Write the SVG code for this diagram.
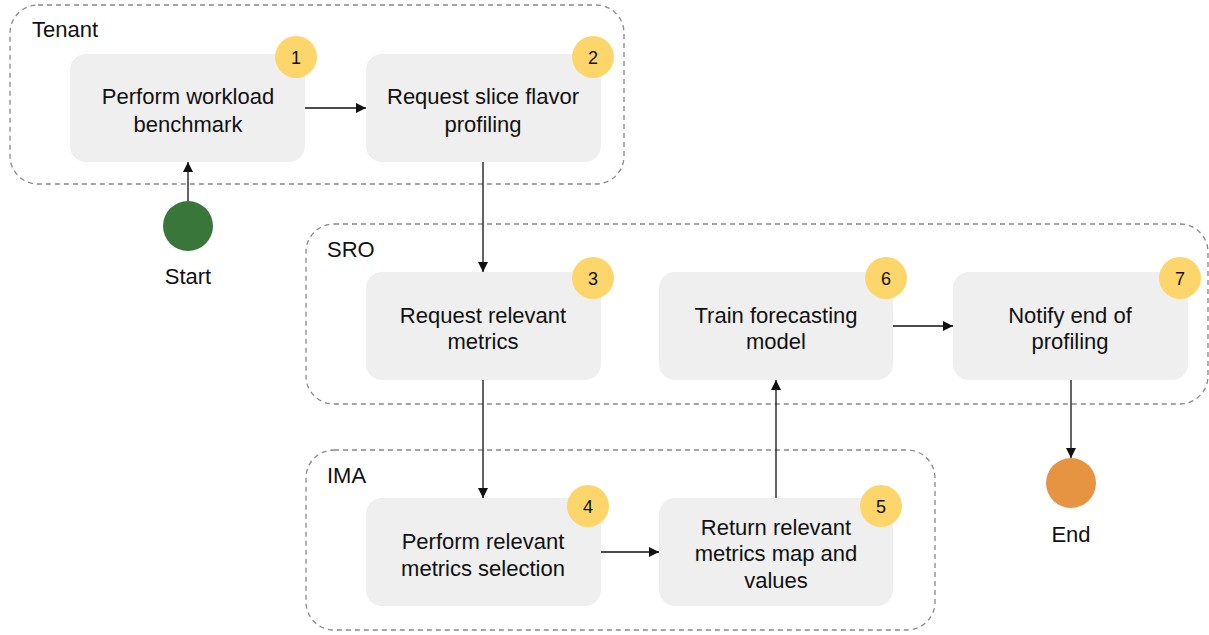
<svg xmlns="http://www.w3.org/2000/svg" width="1209" height="635" viewBox="0 0 1209 635">
<style>
.cont{fill:none;stroke:#888;stroke-width:1.3;stroke-dasharray:5 4}
.box{fill:#efefef}
.badge{fill:#fdd66b}
.t{font-family:"Liberation Sans",Arial,sans-serif;font-size:22px;fill:#111;text-anchor:middle}
.cl{font-family:"Liberation Sans",Arial,sans-serif;font-size:22px;fill:#111}
.b{font-family:"Liberation Sans",Arial,sans-serif;font-size:18px;fill:#111;text-anchor:middle}
.e{fill:none;stroke:#111;stroke-width:1.3;marker-end:url(#ah)}
</style>
<defs>
<marker id="ah" viewBox="0 0 10 10" refX="10" refY="5" markerWidth="10" markerHeight="10" markerUnits="userSpaceOnUse" orient="auto"><path d="M0,0 L10,5 L0,10 z" fill="#111"/></marker>
</defs>
<rect width="1209" height="635" fill="#fff"/>
<g id="tenant"><rect class="cont" x="10" y="5" width="614" height="179" rx="28"/><text class="cl" x="32" y="37">Tenant</text></g>
<g id="sro"><rect class="cont" x="306" y="224" width="902" height="180" rx="28"/><text class="cl" x="327" y="257">SRO</text></g>
<g id="ima"><rect class="cont" x="306" y="450" width="629" height="180" rx="28"/><text class="cl" x="327" y="483">IMA</text></g>
<g id="edges">
<path class="e" d="M188,201 V162"/>
<path class="e" d="M305,108 H366"/>
<path class="e" d="M483,162 V272"/>
<path class="e" d="M483,380 V498"/>
<path class="e" d="M601,552 H659"/>
<path class="e" d="M776,498 V380"/>
<path class="e" d="M893,326 H953"/>
<path class="e" d="M1071,380 V458"/>
</g>
<g id="n1"><rect class="box" x="70" y="54" width="235" height="108" rx="16"/><circle class="badge" cx="296" cy="57" r="21"/><text class="b" x="296" y="64">1</text><text class="t" x="188" y="104">Perform workload</text><text class="t" x="188" y="132">benchmark</text></g>
<g id="n2"><rect class="box" x="366" y="54" width="235" height="108" rx="16"/><circle class="badge" cx="593" cy="57" r="21"/><text class="b" x="593" y="64">2</text><text class="t" x="483" y="104">Request slice flavor</text><text class="t" x="483" y="132">profiling</text></g>
<g id="n3"><rect class="box" x="366" y="272" width="235" height="108" rx="16"/><circle class="badge" cx="593" cy="278" r="21"/><text class="b" x="593" y="285">3</text><text class="t" x="483" y="323">Request relevant</text><text class="t" x="483" y="349">metrics</text></g>
<g id="n4"><rect class="box" x="366" y="498" width="235" height="108" rx="16"/><circle class="badge" cx="588" cy="506" r="21"/><text class="b" x="588" y="513">4</text><text class="t" x="483" y="549">Perform relevant</text><text class="t" x="483" y="576">metrics selection</text></g>
<g id="n5"><rect class="box" x="659" y="498" width="234" height="108" rx="16"/><circle class="badge" cx="881" cy="506" r="21"/><text class="b" x="881" y="513">5</text><text class="t" x="776" y="535">Return relevant</text><text class="t" x="776" y="561">metrics map and</text><text class="t" x="776" y="588">values</text></g>
<g id="n6"><rect class="box" x="659" y="272" width="234" height="108" rx="16"/><circle class="badge" cx="886" cy="278" r="21"/><text class="b" x="886" y="285">6</text><text class="t" x="776" y="323">Train forecasting</text><text class="t" x="776" y="349">model</text></g>
<g id="n7"><rect class="box" x="953" y="272" width="235" height="108" rx="16"/><circle class="badge" cx="1180" cy="278" r="21"/><text class="b" x="1180" y="285">7</text><text class="t" x="1070" y="323">Notify end of</text><text class="t" x="1070" y="349">profiling</text></g>
<g id="start"><circle cx="188" cy="226" r="25" fill="#38763a"/><text class="t" x="188" y="284">Start</text></g>
<g id="end"><circle cx="1071" cy="483" r="25" fill="#e69441"/><text class="t" x="1071" y="542">End</text></g>
</svg>
